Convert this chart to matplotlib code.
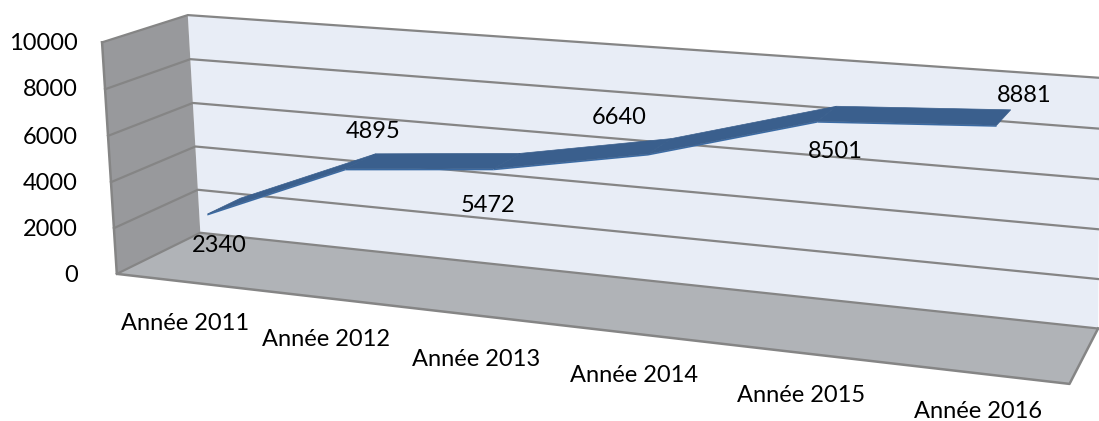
import matplotlib
matplotlib.use('Agg')
import matplotlib.pyplot as plt
import numpy as np

plt.rcParams['font.family'] = ['Lato', 'DejaVu Sans']

# donnees
annees = ['Année 2011', 'Année 2012', 'Année 2013', 'Année 2014', 'Année 2015', 'Année 2016']
valeurs = [2340, 4895, 5472, 6640, 8501, 8881]
graduations = [0, 2000, 4000, 6000, 8000, 10000]
vmax = 10000

# coins de la boite 3D en pixels: (u, v, d) -> (x, y)
coins = {
    (0, 0, 0): (117, 274), (0, 1, 0): (102, 41),
    (0, 0, 1): (200, 233), (0, 1, 1): (188, 16),
    (1, 0, 0): (1073, 384), (1, 1, 0): (1067, 116),
    (1, 0, 1): (1095, 328), (1, 1, 1): (1103, 77),
}

# ajustement d'une matrice de projection sur les coins
A, b = [], []
for (u, v, d), (x, y) in coins.items():
    A.append([u, v, d, 1, 0, 0, 0, 0, -x*u, -x*v, -x*d])
    b.append(x)
    A.append([0, 0, 0, 0, u, v, d, 1, -y*u, -y*v, -y*d])
    b.append(y)
p = np.linalg.lstsq(np.array(A, float), np.array(b, float), rcond=None)[0]
P = np.append(p, 1).reshape(3, 4)

def proj(u, v, d):
    x, y, w = P @ np.array([u, v, d, 1.0])
    return x / w, y / w

fig = plt.figure(figsize=(10.99, 4.21), dpi=100)
ax = fig.add_axes([0, 0, 1, 1])
ax.set_xlim(0, 1099)
ax.set_ylim(421, 0)
ax.axis('off')

GRID = '#858585'

def face(pts, color):
    xs, ys = zip(*[proj(*q) for q in pts])
    ax.fill(xs, ys, facecolor=color, edgecolor='none', zorder=1)

# murs et sol
face([(0, 0, 1), (1, 0, 1), (1, 1, 1), (0, 1, 1)], '#e8edf6')
face([(0, 0, 0), (0, 0, 1), (0, 1, 1), (0, 1, 0)], '#98999c')
face([(0, 0, 0), (1, 0, 0), (1, 0, 1), (0, 0, 1)], '#b0b3b7')

# quadrillage
for g in graduations:
    v = g / vmax
    pts = [proj(0, v, 0), proj(0, v, 1), proj(1, v, 1)]
    xs, ys = zip(*pts)
    ax.plot(xs, ys, color=GRID, lw=1.6, zorder=2)

xs, ys = zip(*[proj(0, 1, 0), proj(0, 0, 0), proj(1, 0, 0), proj(1, 0, 1)])
ax.plot(xs, ys, color=GRID, lw=1.8, zorder=2)

# ruban
d1, d2 = 0.33, 0.74
us = [0.08, 0.247, 0.414, 0.58, 0.752, 0.923]
for i in range(len(valeurs) - 1):
    v0, v1 = valeurs[i] / vmax, valeurs[i + 1] / vmax
    a = proj(us[i], v0, d1)
    b_ = proj(us[i + 1], v1, d1)
    c = proj(us[i + 1], v1, d2)
    e = proj(us[i], v0, d2)
    ax.fill([a[0], b_[0], b_[0], a[0]], [a[1], b_[1], b_[1] + 1.5, a[1] + 1.5],
            color='#3b6ca6', lw=0, zorder=3)
    ax.fill([a[0], b_[0], c[0], e[0]], [a[1], b_[1], c[1], e[1]],
            color='#3a5f8d', lw=0.5, zorder=4)

# textes
pos_ticks_y = [275, 229, 183, 137, 90, 43]
for g, y in zip(graduations, pos_ticks_y):
    ax.text(78, y, str(g), ha='right', va='center', fontsize=17, color='black')

pos_annees = [(185, 323), (326, 340), (476, 359), (634, 375), (801, 395), (978, 412)]
for nom, (x, y) in zip(annees, pos_annees):
    ax.text(x, y, nom, ha='center', va='center', fontsize=17, color='black')

pos_valeurs = [(219, 246), (373, 132), (488, 205), (619, 118), (835, 151), (1024, 95)]
for val, (x, y) in zip(valeurs, pos_valeurs):
    ax.text(x, y, str(val), ha='center', va='center', fontsize=17, color='black', zorder=5)

fig.savefig('out.png', dpi=100)
